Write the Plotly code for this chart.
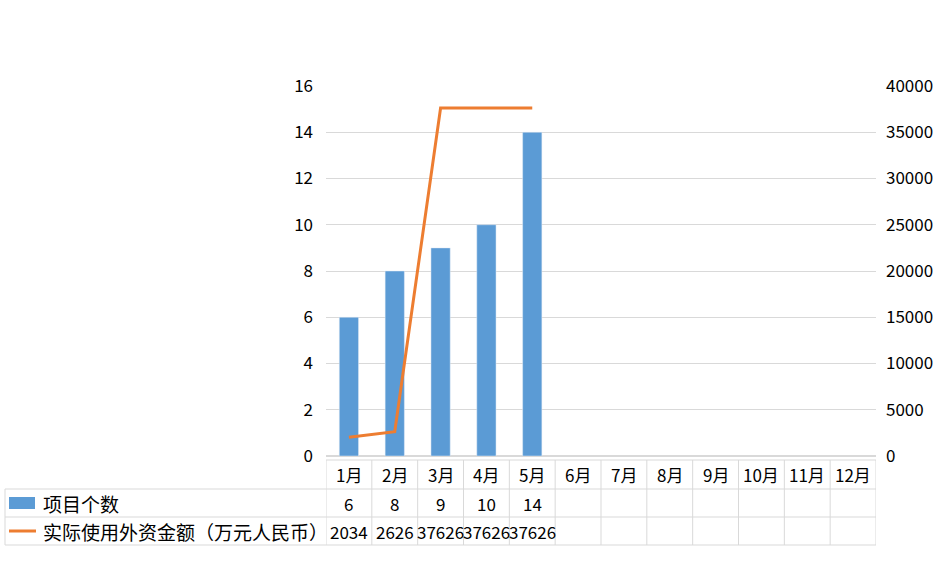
import plotly.graph_objects as go

months = ["1月", "2月", "3月", "4月", "5月", "6月", "7月", "8月", "9月", "10月", "11月", "12月"]
project_counts = [6, 8, 9, 10, 14]
investment = [2034, 2626, 37626, 37626, 37626]
bar_name = "项目个数"
line_name = "实际使用外资金额（万元人民币）"

BLUE = "#5B9BD5"
ORANGE = "#ED7D31"
GRID = "#D9D9D9"
FONT = "Noto Sans CJK SC"

W, H = 937, 578
L, R, T, B = 326, 876, 86, 456  # plot area in pixels
pw, ph = R - L, B - T

def py(p):
    return (B - p) / ph

def px(p):
    return (p - L) / pw

fig = go.Figure()
fig.add_trace(go.Bar(x=months[:len(project_counts)], y=project_counts, name=bar_name,
                     marker_color=BLUE, width=0.42, yaxis="y"))
fig.add_trace(go.Scatter(x=months[:len(investment)], y=investment, name=line_name,
                         mode="lines", line=dict(color=ORANGE, width=3), yaxis="y2"))

shapes = []
n = len(months)
shapes.append(dict(type="line", xref="x", yref="paper", x0=-0.5, x1=n - 0.5,
                   y0=py(460), y1=py(460), line=dict(color=GRID, width=1)))
for yy in [489, 517, 545]:
    shapes.append(dict(type="line", xref="paper", yref="paper", x0=px(5), x1=1,
                       y0=py(yy), y1=py(yy), line=dict(color=GRID, width=1)))
for i in range(n + 1):
    shapes.append(dict(type="line", xref="x", yref="paper", x0=i - 0.5, x1=i - 0.5,
                       y0=py(460), y1=py(545), line=dict(color=GRID, width=1)))
shapes.append(dict(type="line", xref="paper", yref="paper", x0=px(5), x1=px(5),
                   y0=py(489), y1=py(545), line=dict(color=GRID, width=1)))
shapes.append(dict(type="rect", xref="paper", yref="paper", x0=px(9), x1=px(35),
                   y0=py(497), y1=py(509), fillcolor=BLUE, line=dict(width=0)))
shapes.append(dict(type="line", xref="paper", yref="paper", x0=px(9), x1=px(36),
                   y0=py(531), y1=py(531), line=dict(color=ORANGE, width=3)))

ann = []
tf = dict(family=FONT, size=17, color="#000000")
lf = dict(family=FONT, size=19, color="#000000")
for m in months:
    ann.append(dict(x=m, y=py(474.5), xref="x", yref="paper", text=m, showarrow=False,
                    font=tf, xanchor="center", yanchor="middle"))
for m, v in zip(months, project_counts):
    ann.append(dict(x=m, y=py(503), xref="x", yref="paper", text=str(v), showarrow=False,
                    font=tf, xanchor="center", yanchor="middle"))
for m, v in zip(months, investment):
    ann.append(dict(x=m, y=py(531), xref="x", yref="paper", text=str(v), showarrow=False,
                    font=tf, xanchor="center", yanchor="middle"))
ann.append(dict(x=px(41), y=py(503), xref="paper", yref="paper", text=bar_name, showarrow=False,
                font=lf, xanchor="left", yanchor="middle"))
ann.append(dict(x=px(41), y=py(531), xref="paper", yref="paper", text=line_name, showarrow=False,
                font=lf, xanchor="left", yanchor="middle"))

fig.update_layout(
    width=W, height=H,
    margin=dict(l=L, r=W - R, t=T, b=H - B, pad=0, autoexpand=False),
    paper_bgcolor="white", plot_bgcolor="white",
    showlegend=False,
    font=dict(family=FONT, size=17, color="#000000"),
    xaxis=dict(type="category", categoryarray=months, categoryorder="array",
               range=[-0.5, n - 0.5], showticklabels=False, showgrid=False,
               zeroline=False, showline=False, ticks="", automargin=False),
    yaxis=dict(range=[0, 16], dtick=2, showgrid=True, gridcolor=GRID, gridwidth=1,
               zeroline=True, zerolinecolor=GRID, showline=False, ticks="",
               automargin=False,
               ticklabelstandoff=12, tickfont=dict(family=FONT, size=17)),
    yaxis2=dict(range=[0, 40000], dtick=5000, tickformat="d", overlaying="y", side="right",
                showgrid=False, zeroline=False, showline=False, ticks="", automargin=False,
                ticklabelstandoff=9, tickfont=dict(family=FONT, size=17)),
    shapes=shapes, annotations=ann,
)
fig.write_html("out.html")
